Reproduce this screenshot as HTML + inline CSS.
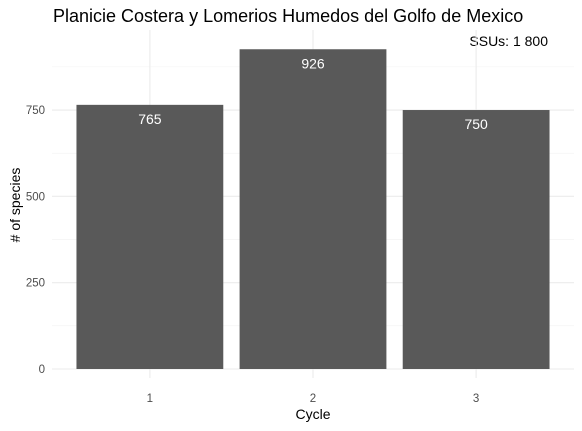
<!DOCTYPE html>
<html><head><meta charset="utf-8"><style>
body{margin:0;background:#fff;}
svg{display:block;font-family:"Liberation Sans",Arial,sans-serif;}
</style></head><body>
<svg id="chart" width="582" height="431">
<text x="53" y="22" font-size="18" fill="#000">Planicie Costera y Lomerios Humedos del Golfo de Mexico</text>
<text x="548" y="46" font-size="14" text-anchor="end" fill="#000">SSUs: 1 800</text>
<g id="grid"></g>
<g id="bars"></g>
<g id="axes"></g>
<text x="313" y="419" font-size="14" text-anchor="middle" fill="#000">Cycle</text>
<text transform="translate(20,205) rotate(-90)" font-size="14" text-anchor="middle" fill="#000"># of species</text>
</svg>
<script>
const categories = ["1","2","3"];
const values = [765, 926, 750];
const yTicks = [0, 250, 500, 750];
const yMinor = [125, 375, 625, 875];
const ns = "http://www.w3.org/2000/svg";
const panelL = 52, panelR = 574, panelT = 30, panelB = 378;
const step = (panelR - panelL) / 3.2;
function x(i){ return panelL + (0.6 + i) * step; }
function y(v){ return 369 - v * 0.3453; }
function mk(tag, attrs, parent){ const e = document.createElementNS(ns, tag); for (const k in attrs) e.setAttribute(k, attrs[k]); parent.appendChild(e); return e; }
const grid = document.getElementById("grid");
const bars = document.getElementById("bars");
const axes = document.getElementById("axes");
yMinor.forEach(v => {
  const l = mk("line", {x1: panelL, x2: panelR, y1: y(v), y2: y(v), stroke: "#f2f2f2", "stroke-width": 0.6}, grid);
  
  
});
yTicks.forEach(v => {
  const l = mk("line", {x1: panelL, x2: panelR, y1: y(v), y2: y(v), stroke: "#ebebeb", "stroke-width": 1.1}, grid);
  
  
  const t = mk("text", {x: 45, y: y(v) + 4, "font-size": 11.5, "text-anchor": "end", fill: "#4d4d4d"}, axes);
  t.textContent = v;
  
  
});
categories.forEach((c, i) => {
  const l = mk("line", {x1: x(i), x2: x(i), y1: panelT, y2: panelB, stroke: "#ebebeb", "stroke-width": 1.1}, grid);
  
  
  const w = step * 0.9;
  const r = mk("rect", {x: x(i) - w / 2, y: y(values[i]), width: w, height: y(0) - y(values[i]), fill: "#595959"}, bars);
  
  
  const t = mk("text", {x: x(i), y: y(values[i]) + 19, "font-size": 14, "text-anchor": "middle", fill: "#fff"}, bars);
  t.textContent = values[i];
  
  
  const xt = mk("text", {x: x(i), y: 402, "font-size": 11.5, "text-anchor": "middle", fill: "#4d4d4d"}, axes);
  xt.textContent = c;
  
  
});
</script>
</body></html>
